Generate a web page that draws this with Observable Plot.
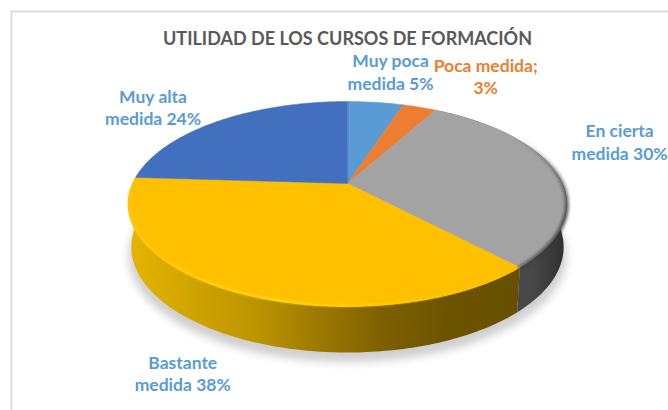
<!DOCTYPE html>
<html>
<head>
<meta charset="utf-8">
<script src="https://cdn.jsdelivr.net/npm/d3@7"></script>
<script src="https://cdn.jsdelivr.net/npm/@observablehq/plot@0.6"></script>
<style>html,body{margin:0;padding:0;background:#fff}svg{display:block}</style>
</head>
<body>
<div id="chart"></div>
<script>
const chartTitle = "UTILIDAD DE LOS CURSOS DE FORMACIÓN";
const categories = ["Muy poca medida", "Poca medida", "En cierta medida", "Bastante medida", "Muy alta medida"];
const values = [5, 3, 30, 38, 24];
const labels = ["Muy poca\nmedida 5%", "Poca medida;\n3%", "En cierta\nmedida 30%", "Bastante\nmedida 38%", "Muy alta\nmedida 24%"];
const sliceColors = ["#5B9BD5", "#ED7D31", "#A3A3A3", "#FFC000", "#4270BF"];
const labelColors = ["#5B9BD5", "#ED7D31", "#5B9BD5", "#5B9BD5", "#5B9BD5"];
// label nudges from each slice's outer mid-point, in pixels
const labelDx = [15, 66, 64, -53, -66];
const labelDy = [-31, -31, -30, 81, -14];

const tilt = 0.2, depth = 0.43, lowY = 1.03, lowX = 0.985;
const project = (deg, r = 1, low = false) => {
  const t = deg * Math.PI / 180;
  const w = 1 + tilt * r * Math.cos(t);
  const x = r * Math.sin(t) / w, y = r * Math.cos(t) / w;
  return low ? {x: x * lowX, y: y * lowY - depth} : {x, y};
};
let acc = 0;
const slices = categories.map((name, i) => {
  const a0 = acc / 100 * 360; acc += values[i];
  return {name, a0, a1: acc / 100 * 360, label: labels[i], color: labelColors[i], dx: labelDx[i], dy: labelDy[i]};
});
const arc = (a0, a1, r = 1, low = false) =>
  d3.range(0, 1.0001, 1 / Math.max(2, Math.ceil(a1 - a0))).map(f => project(a0 + (a1 - a0) * f, r, low));
const topFace = slices.flatMap(s => [{x: 0, y: 0, name: s.name}, ...arc(s.a0, s.a1).map(p => ({...p, name: s.name}))]);
const wall = s => [...arc(s.a0, s.a1), ...arc(s.a0, s.a1, 1, true).reverse()];
const grey = slices[2], yellow = slices[3];
const shadow = arc(0, 360, 1.0, true).map(p => ({x: p.x * 1.012, y: p.y - 0.045}));
const stopsYellow = [[0, "#E8B400"], [0.18, "#CDA200"], [0.33, "#BC9400"], [0.5, "#9A7700"], [0.65, "#7D6000"], [0.82, "#6C5300"], [1, "#665000"]];

const defs = () => {
  const d = d3.create("svg:defs");
  const g1 = d.append("linearGradient").attr("id", "sideY");
  stopsYellow.forEach(([o, c]) => g1.append("stop").attr("offset", o).attr("stop-color", c));
  const g2 = d.append("linearGradient").attr("id", "sideG");
  [[0, "#4A4A4A"], [0.75, "#474747"], [0.95, "#333333"], [1, "#333333"]].forEach(([o, c]) => g2.append("stop").attr("offset", o).attr("stop-color", c));
  const g3 = d.append("linearGradient").attr("id", "rimY");
  [[0, "#FFD21A", 0.6], [0.4, "#FFE01A", 1], [0.7, "#FFD800", 0.5], [1, "#FFD000", 0]].forEach(([o, c, a]) => g3.append("stop").attr("offset", o).attr("stop-color", c).attr("stop-opacity", a));
  const g4 = d.append("linearGradient").attr("id", "rimG").attr("x1", 0).attr("x2", 0).attr("y1", 0).attr("y2", 1);
  [[0, 0], [0.3, 0.5], [0.6, 0.85], [1, 0.6]].forEach(([o, a]) => g4.append("stop").attr("offset", o).attr("stop-color", "#3A3A3A").attr("stop-opacity", a));
  return d.node();
};

const chart = Plot.plot({
  width: 668, height: 410, margin: 0,
  style: {background: "#fff", fontFamily: "Lato, 'Open Sans', sans-serif"},
  x: {domain: [-1, 1], range: [132, 562], axis: null},
  y: {domain: [-1, 1], range: [281.4, 84.6], axis: null},
  color: {domain: categories, range: sliceColors},
  marks: [
    defs,
    Plot.line(shadow, {x: "x", y: "y", fill: "#CFCFCF", stroke: "none", curve: "linear-closed", imageFilter: "blur(4px)", dy: 5}),
    Plot.line(wall(yellow), {x: "x", y: "y", fill: "url(#sideY)", stroke: "none", curve: "linear-closed", imageFilter: "blur(0.5px)"}),
    Plot.line(wall(grey), {x: "x", y: "y", fill: "url(#sideG)", stroke: "none", curve: "linear-closed", imageFilter: "blur(0.5px)"}),
    Plot.line(topFace, {x: "x", y: "y", z: "name", fill: "name", stroke: "name", strokeWidth: 0.5, curve: "linear-closed"}),
    Plot.line(arc(yellow.a0 + 1, yellow.a1 - 8, 0.995), {x: "x", y: "y", stroke: "url(#rimY)", strokeWidth: 2, imageFilter: "blur(1px)"}),
    Plot.line(arc(grey.a0 + 30, grey.a1, 1.0), {x: "x", y: "y", stroke: "url(#rimG)", strokeWidth: 4, imageFilter: "blur(1.5px)"}),
    Plot.text(slices, {
      x: s => project((s.a0 + s.a1) / 2).x,
      y: s => project((s.a0 + s.a1) / 2).y,
      text: "label", fill: "color", fontSize: 17.5, fontWeight: 700, lineHeight: 1.27,
      render: (index, scales, channels, dimensions, context, next) => {
        const g = next(index, scales, channels, dimensions, context);
        d3.select(g).selectAll("text").attr("transform", function (_, j) {
          const t = d3.select(this).attr("transform") || "";
          return `${t} translate(${slices[index[j]].dx},${slices[index[j]].dy})`;
        });
        return g;
      }
    }),
    Plot.text([chartTitle], {frameAnchor: "top", dy: 32, dx: 13, text: d => d, fill: "#595959", fontSize: 18, fontWeight: 700, lineAnchor: "top", style: {letterSpacing: "-0.24px"}}),
    Plot.frame({anchor: "top", stroke: "#DDD", strokeWidth: 2, insetTop: 11, insetLeft: 11}),
    Plot.frame({anchor: "left", stroke: "#DDD", strokeWidth: 2, insetLeft: 11, insetTop: 11})
  ]
});
document.getElementById("chart").append(chart);
</script>
</body>
</html>
